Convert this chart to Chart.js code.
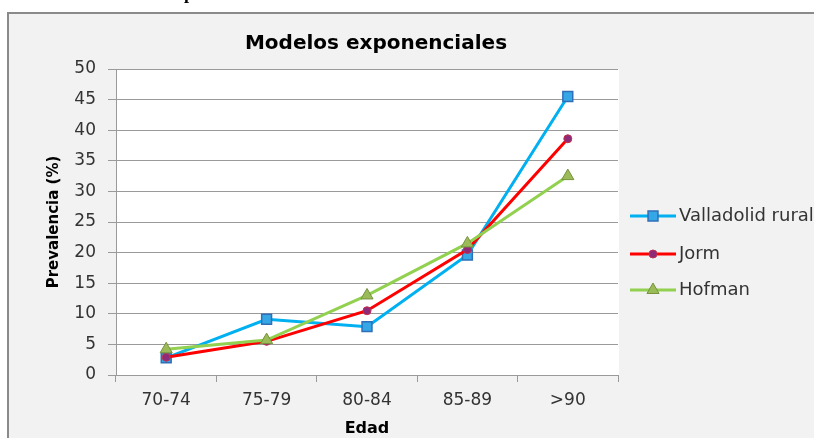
<!DOCTYPE html>
<html>
<head>
<meta charset="utf-8">
<script src="https://cdn.jsdelivr.net/npm/chart.js@4/dist/chart.umd.min.js"></script>
<style>
  html, body { margin: 0; padding: 0; background: #fff; overflow: hidden; }
  #wrap { position: absolute; left: 0; top: 0; width: 814px; height: 438px; }
</style>
</head>
<body>
<div id="wrap"><canvas id="c" width="814" height="438"></canvas></div>
<script>
// Age groups and prevalence (%) for each exponential model
const edades = ['70-74', '75-79', '80-84', '85-89', '>90'];
const valladolidRural = [2.8, 9.1, 7.9, 19.6, 45.5];
const jorm = [2.9, 5.5, 10.5, 20.5, 38.6];
const hofman = [4.2, 5.7, 13.0, 21.5, 32.5];
const yMin = 0, yMax = 50, yStep = 5;

const tituloGrafico = 'Modelos exponenciales';
const tituloY = 'Prevalencia (%)';
const tituloX = 'Edad';

const GRID = '#9a9a9a';
const TEXT = '#333333';

// Chart frame, grey chart area and white plot area
const framePlugin = {
  id: 'frame',
  beforeDraw(chart) {
    const ctx = chart.ctx;
    const a = chart.chartArea;
    ctx.save();
    ctx.fillStyle = '#ffffff';
    ctx.fillRect(0, 0, chart.width, chart.height);
    ctx.fillStyle = '#f2f2f2';
    ctx.fillRect(8, 13, chart.width - 8, chart.height - 13);
    ctx.strokeStyle = '#8a8a8a';
    ctx.lineWidth = 2;
    ctx.beginPath();
    ctx.moveTo(8, chart.height);
    ctx.lineTo(8, 13);
    ctx.lineTo(chart.width, 13);
    ctx.stroke();
    ctx.fillStyle = '#ffffff';
    ctx.fillRect(a.left, a.top, a.right - a.left + 1, a.bottom - a.top);
    ctx.restore();
  },
  afterDraw(chart) {
    const ctx = chart.ctx;
    ctx.save();
    // caption fragment above the frame
    ctx.fillStyle = '#000';
    ctx.font = 'bold 18px "Liberation Serif"';
    ctx.textAlign = 'center';
    ctx.textBaseline = 'alphabetic';
    ctx.fillText('p', 189, -1);

    // chart title
    ctx.fillStyle = '#000';
    ctx.font = 'bold 20px "DejaVu Sans"';
    ctx.textAlign = 'center';
    ctx.textBaseline = 'middle';
    ctx.fillText(tituloGrafico, 376, 44);

    // legend: line segment with marker, then label
    const rows = [216, 254, 290];
    chart.data.datasets.forEach((ds, i) => {
      const y = rows[i];
      ctx.strokeStyle = ds.borderColor;
      ctx.lineWidth = ds.borderWidth;
      ctx.beginPath();
      ctx.moveTo(630, y);
      ctx.lineTo(676, y);
      ctx.stroke();
      ctx.fillStyle = ds.pointBackgroundColor;
      ctx.strokeStyle = ds.pointBorderColor;
      ctx.lineWidth = ds.pointBorderWidth;
      Chart.helpers.drawPoint(ctx, {
        pointStyle: ds.pointStyle,
        radius: ds.pointRadius,
        rotation: 0,
        borderWidth: ds.pointBorderWidth
      }, 653, y);
      ctx.fillStyle = TEXT;
      ctx.font = '18px "DejaVu Sans"';
      ctx.textAlign = 'left';
      ctx.textBaseline = 'middle';
      ctx.fillText(ds.label, 679, y);
    });
    ctx.restore();
  }
};

new Chart(document.getElementById('c'), {
  type: 'line',
  data: {
    labels: edades,
    datasets: [
      {
        label: 'Valladolid rural',
        data: valladolidRural,
        borderColor: '#00b0f0',
        borderWidth: 3,
        pointStyle: 'rect',
        pointRadius: 7,
        pointBackgroundColor: '#35a6e6',
        pointBorderColor: '#2f6fb8',
        pointBorderWidth: 1.5,
        tension: 0,
        order: 3
      },
      {
        label: 'Jorm',
        data: jorm,
        borderColor: '#ff0000',
        borderWidth: 3,
        pointStyle: 'circle',
        pointRadius: 4,
        pointBackgroundColor: '#8e2a78',
        pointBorderColor: '#c0304f',
        pointBorderWidth: 1,
        tension: 0,
        order: 2
      },
      {
        label: 'Hofman',
        data: hofman,
        borderColor: '#92d050',
        borderWidth: 3,
        pointStyle: 'triangle',
        pointRadius: 7,
        pointBackgroundColor: '#9bbb59',
        pointBorderColor: '#77933c',
        pointBorderWidth: 1,
        tension: 0,
        order: 1
      }
    ]
  },
  options: {
    responsive: false,
    animation: false,
    devicePixelRatio: 1,
    layout: { padding: { top: 69, left: 0, right: 196, bottom: 0 } },
    plugins: {
      legend: { display: false },
      title: { display: false },
      tooltip: { enabled: false }
    },
    scales: {
      x: {
        type: 'category',
        offset: true,
        afterFit(scale) { scale.height = 63; },
        grid: {
          display: true,
          drawOnChartArea: false,
          drawTicks: true,
          tickLength: 7,
          color: GRID,
          offset: true
        },
        border: { display: true, color: GRID, width: 1 },
        ticks: {
          color: TEXT,
          font: { family: 'DejaVu Sans', size: 17 },
          padding: 8,
          maxRotation: 0
        },
        title: {
          display: true,
          text: tituloX,
          color: '#000',
          font: { family: 'DejaVu Sans', size: 16, weight: 'bold' },
          padding: { top: 0, bottom: 0 }
        }
      },
      y: {
        min: yMin,
        max: yMax,
        afterFit(scale) { scale.width = 116; },
        grid: {
          display: true,
          drawOnChartArea: true,
          drawTicks: true,
          tickLength: 8,
          color: GRID,
          lineWidth: 1
        },
        border: { display: true, color: GRID, width: 1 },
        ticks: {
          stepSize: yStep,
          color: TEXT,
          font: { family: 'DejaVu Sans', size: 17 },
          padding: 12
        },
        title: {
          display: true,
          text: tituloY,
          color: '#000',
          font: { family: 'DejaVu Sans', size: 15, weight: 'bold' },
          padding: { top: 45, bottom: 0 }
        }
      }
    }
  },
  plugins: [framePlugin]
});
</script>
</body>
</html>
